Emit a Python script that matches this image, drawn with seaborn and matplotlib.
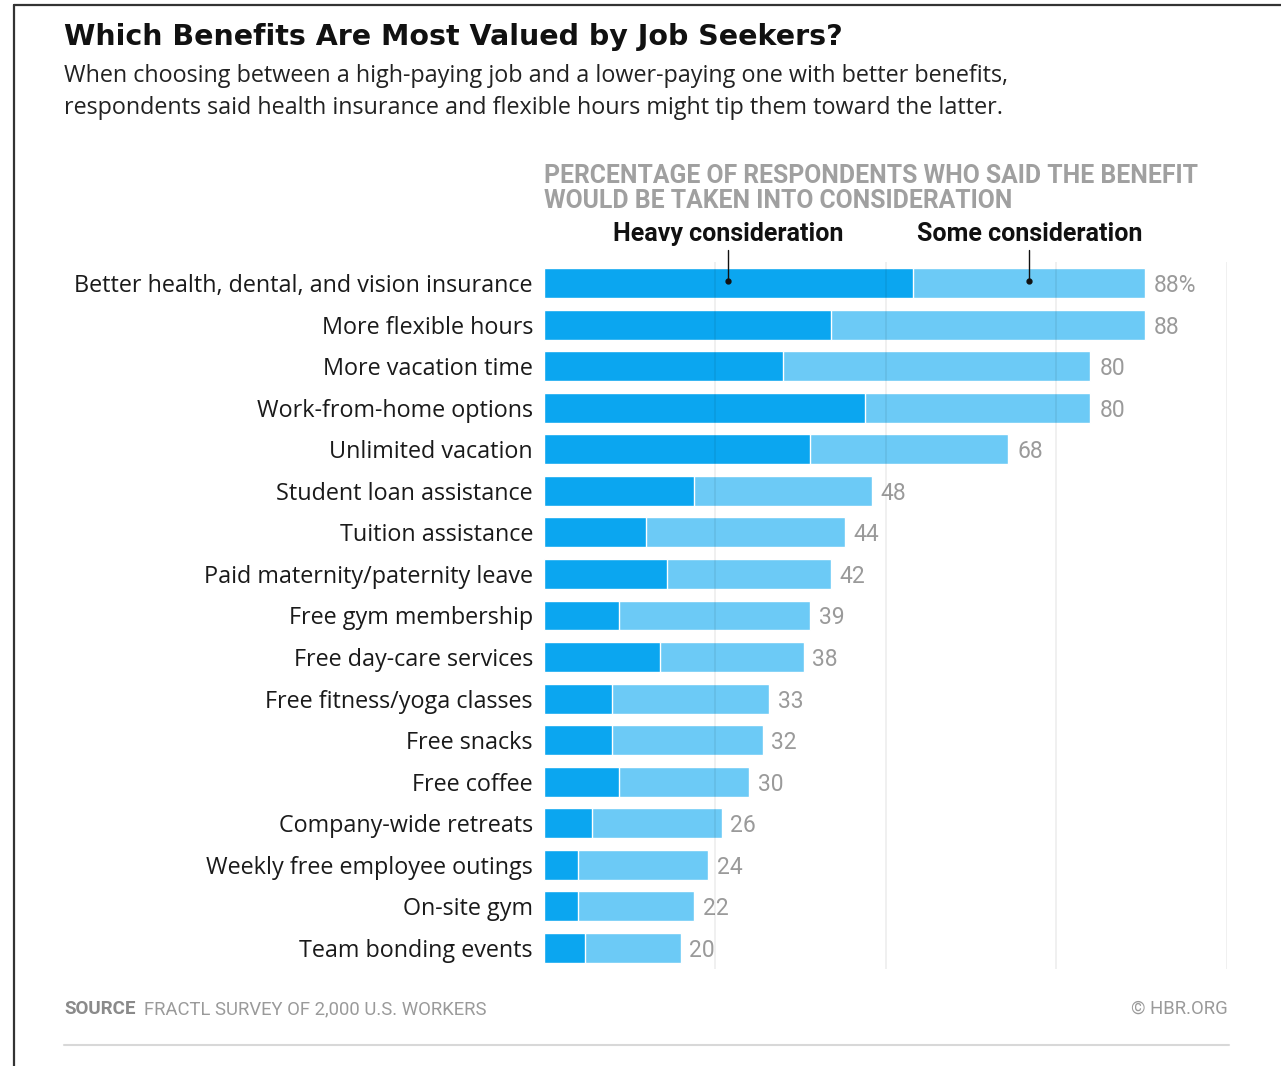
import matplotlib
matplotlib.use("Agg")
import matplotlib.pyplot as plt
import seaborn as sns
import pandas as pd
from matplotlib.lines import Line2D

categories = [
    "Better health, dental, and vision insurance",
    "More flexible hours",
    "More vacation time",
    "Work-from-home options",
    "Unlimited vacation",
    "Student loan assistance",
    "Tuition assistance",
    "Paid maternity/paternity leave",
    "Free gym membership",
    "Free day-care services",
    "Free fitness/yoga classes",
    "Free snacks",
    "Free coffee",
    "Company-wide retreats",
    "Weekly free employee outings",
    "On-site gym",
    "Team bonding events",
]
total_values = [88, 88, 80, 80, 68, 48, 44, 42, 39, 38, 33, 32, 30, 26, 24, 22, 20]
heavy_values = [54, 42, 35, 47, 39, 22, 15, 18, 11, 17, 10, 10, 11, 7, 5, 5, 6]
value_labels = ["88%", "88", "80", "80", "68", "48", "44", "42", "39", "38",
                "33", "32", "30", "26", "24", "22", "20"]
grid_ticks = [25, 50, 75, 100]

df = pd.DataFrame({"category": categories, "total": total_values, "heavy": heavy_values})

sns.set_theme(style="white")
plt.rcParams["font.family"] = ["Open Sans", "DejaVu Sans"]

W, H = 1281, 1066
fig = plt.figure(figsize=(W / 100, H / 100), dpi=100)

x0, x100 = 544, 1227
top_px, bot_px = 262.2, 968.8
ax = fig.add_axes([x0 / W, 1 - bot_px / H, (x100 - x0) / W, (bot_px - top_px) / H])

HEAVY = "#0BA6F0"
SOME = "#6CCAF6"

sns.barplot(data=df, y="category", x="total", orient="h", color=SOME,
            saturation=1, width=0.72, ax=ax, order=categories)
sns.barplot(data=df, y="category", x="heavy", orient="h", color=HEAVY,
            saturation=1, width=0.72, ax=ax, order=categories)

ax.set_xlim(0, 100)
ax.set_ylim(len(categories) - 0.5, -0.5)
for g in grid_ticks:
    ax.axvline(g, color="#000000", alpha=0.07, lw=1.2, zorder=5)
for s in ax.spines.values():
    s.set_visible(False)
ax.set_xticks([])
ax.set_xlabel("")
ax.set_ylabel("")
ax.tick_params(axis="y", length=0, pad=8)
ax.set_yticks(range(len(categories)))
ax.set_yticklabels(categories, fontsize=16.8, color="#1a1a1a")

for i, (t, lab) in enumerate(zip(total_values, value_labels)):
    ax.text(t + 1.3, i + 0.06, lab, va="center", ha="left", fontsize=16.5, color="#9a9a9a",
            family=["Roboto", "DejaVu Sans"])

# legend leaders
for xv in [26.9, 71.0]:
    ax.plot([xv, xv], [-0.05, -0.8], color="#111111", lw=1, clip_on=False, zorder=6)
    ax.plot([xv], [-0.05], marker="o", ms=3.5, color="#111111", clip_on=False, zorder=6)

def fx(px):
    return px / W

def fy(py):
    return 1 - py / H

fig.text(fx(64), fy(37), "Which Benefits Are Most Valued by Job Seekers?",
         fontsize=20.5, fontweight="bold", color="#111111", va="center", ha="left",
         family=["DejaVu Sans"])
fig.text(fx(64), fy(76), "When choosing between a high-paying job and a lower-paying one with better benefits,",
         fontsize=16.8, color="#222222", va="center", ha="left")
fig.text(fx(64), fy(108), "respondents said health insurance and flexible hours might tip them toward the latter.",
         fontsize=16.8, color="#222222", va="center", ha="left")

fig.text(fx(544), fy(176), "PERCENTAGE OF RESPONDENTS WHO SAID THE BENEFIT",
         fontsize=17.8, fontweight="bold", color="#a0a0a0", va="center", ha="left",
         family=["Roboto", "DejaVu Sans"])
fig.text(fx(544), fy(201), "WOULD BE TAKEN INTO CONSIDERATION",
         fontsize=17.8, fontweight="bold", color="#a0a0a0", va="center", ha="left",
         family=["Roboto", "DejaVu Sans"])

fig.text(fx(728), fy(234), "Heavy consideration", fontsize=18, fontweight="bold",
         color="#111111", va="center", ha="center", family=["Roboto", "DejaVu Sans"])
fig.text(fx(1030), fy(234), "Some consideration", fontsize=18, fontweight="bold",
         color="#111111", va="center", ha="center", family=["Roboto", "DejaVu Sans"])

fig.text(fx(64), fy(1009), "SOURCE", fontsize=13.5, fontweight="bold", color="#8a8a8a",
         va="center", ha="left", family=["Roboto", "DejaVu Sans"])
fig.text(fx(144), fy(1009), "FRACTL SURVEY OF 2,000 U.S. WORKERS", fontsize=13.3,
         color="#9a9a9a", va="center", ha="left", family=["Roboto", "DejaVu Sans"])
fig.text(fx(1228), fy(1009), "© HBR.ORG", fontsize=13.3, color="#9a9a9a",
         va="center", ha="right", family=["Roboto", "DejaVu Sans"])

fig.add_artist(Line2D([fx(64), fx(1229)], [fy(1045), fy(1045)], color="#d8d8d8", lw=1.5))
fig.add_artist(Line2D([fx(14), fx(14)], [fy(5), fy(1066)], color="#333333", lw=1.6))
fig.add_artist(Line2D([fx(14), fx(1281)], [fy(5), fy(5)], color="#333333", lw=1.6))

fig.savefig("out.png", dpi=100, facecolor="white")
